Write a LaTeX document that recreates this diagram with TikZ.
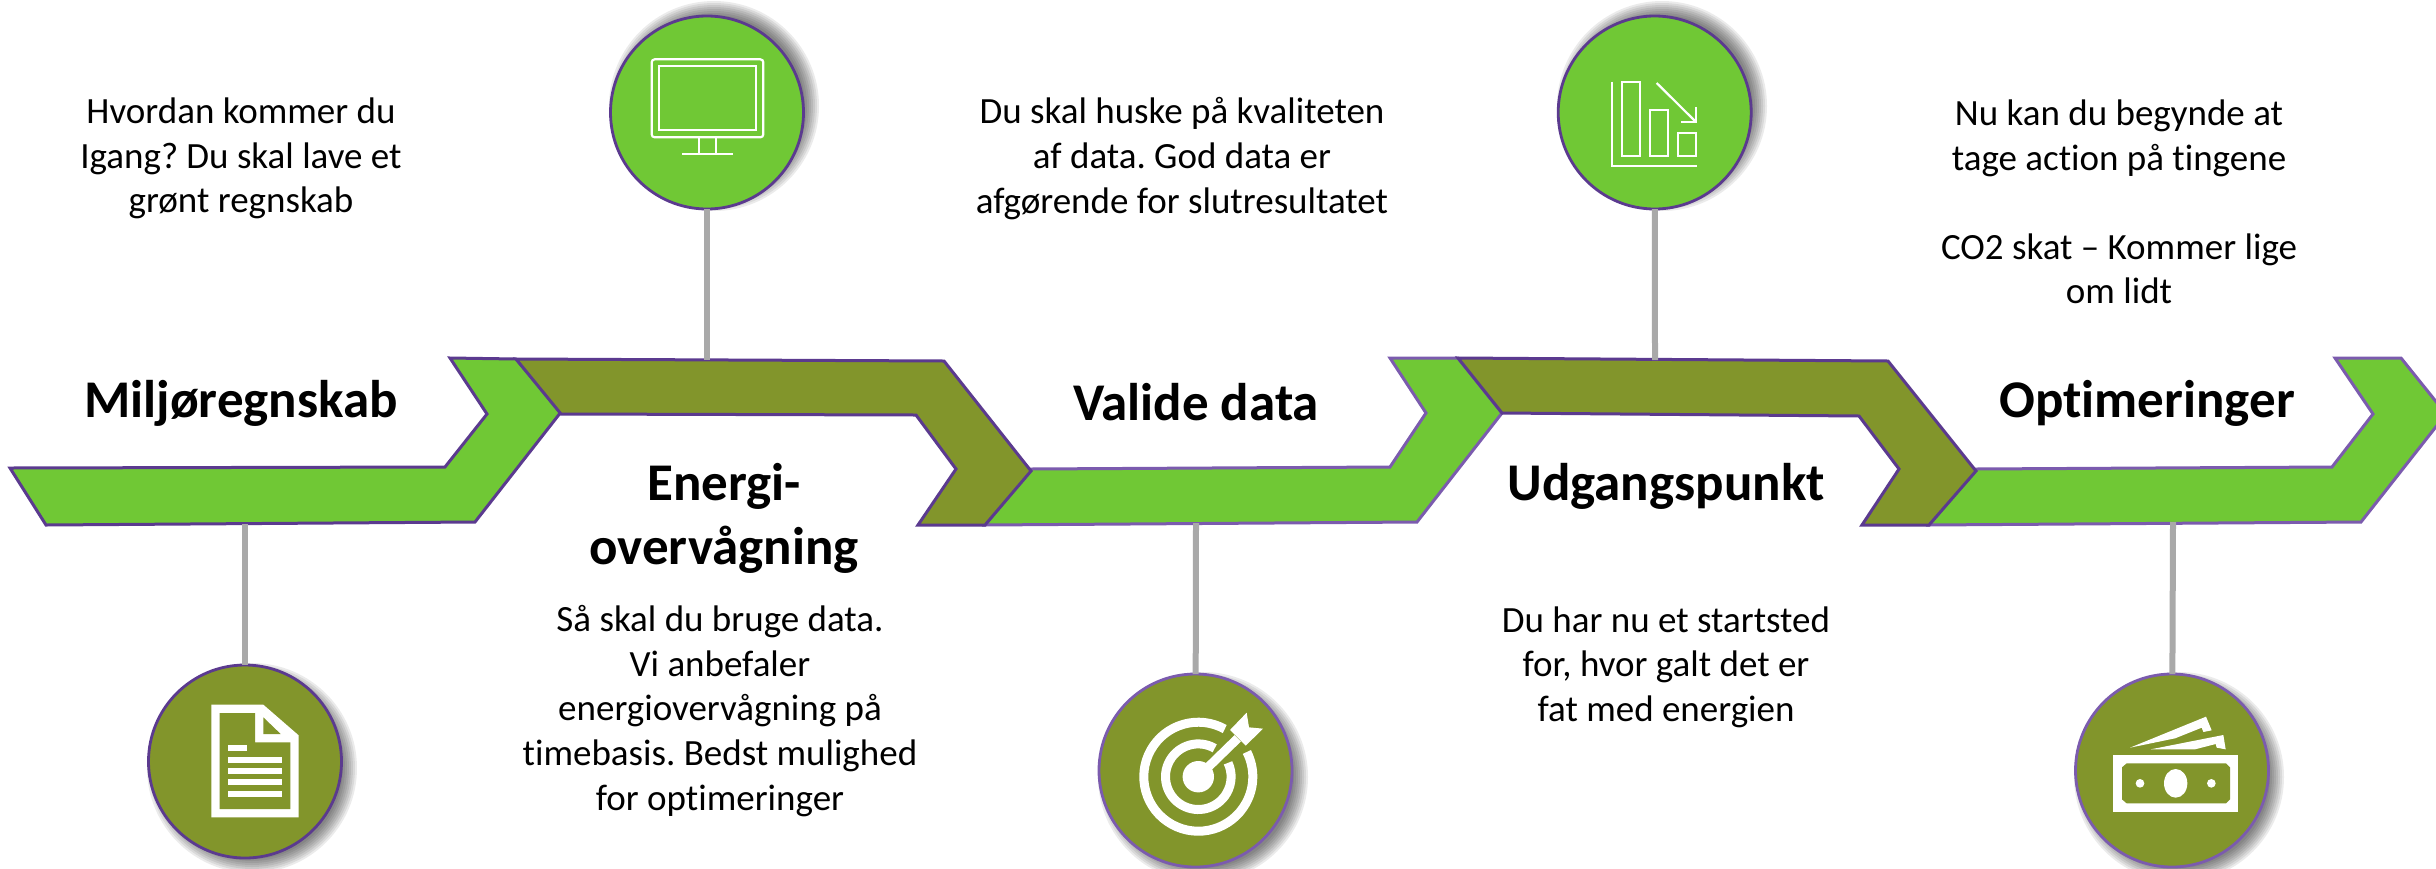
\documentclass[tikz,border=0pt]{standalone}
\usepackage{fontspec}
\setmainfont[Ligatures=NoCommon]{Carlito}
\frenchspacing
\definecolor{leaf}{HTML}{70C835}
\definecolor{moss}{HTML}{82952B}
\definecolor{edgedark}{HTML}{5B3A8F}
\definecolor{edgelight}{HTML}{7B5BAE}
\definecolor{stem}{HTML}{A9A9A9}
\tikzset{
  x=1pt,y=-1pt,
  leafbar/.style={fill=leaf,draw=edgelight,line width=3pt,line join=miter},
  leafbardark/.style={fill=leaf,draw=edgedark,line width=3pt,line join=miter},
  mossbar/.style={fill=moss,draw=edgedark,line width=3pt,line join=miter},
  disc/.style={circle,inner sep=0pt,outer sep=0pt,minimum size=193pt,line width=2.8pt},
  stemline/.style={draw=stem,line width=6pt},
  body/.style={align=center,inner sep=0pt,font=\fontsize{37}{44.6}\selectfont,text=black},
  head/.style={align=center,inner sep=0pt,font=\fontsize{53}{64}\selectfont\bfseries,text=black},
  iconline/.style={draw=white,line width=2.2pt},
  crop/.style 2 args={shift={(#1,#2)},x=.33333pt,y=-.33333pt},
}
\begin{document}
\begin{tikzpicture}
\clip (0,0) rectangle (2436,868);
% chevron bars
\draw[leafbardark] (10,468) -- (445,467) -- (487,414) -- (450,358) -- (516,359) -- (561,412) -- (475,522) -- (46,525) -- cycle;
\draw[leafbar] (985,525) -- (1031,469) -- (1390,467) -- (1426,413) -- (1390,358) -- (1458,358) -- (1502,413) -- (1417,522) -- cycle;
\draw[leafbar] (1929,525) -- (1976,469) -- (2332,467) -- (2373,414) -- (2335,358) -- (2401,358) -- (2446,414) -- (2361,522) -- cycle;
\draw[mossbar] (516,359) -- (944,361) -- (1031,471) -- (985,525) -- (918,525) -- (956,469) -- (916,415) -- (561,414) -- cycle;
\draw[mossbar] (1458,358) -- (1888,361) -- (1976,471) -- (1929,525) -- (1862,525) -- (1899,469) -- (1859,416) -- (1502,413) -- cycle;
\coordinate (barA) at (245,524);
\coordinate (barB) at (707,360);
\coordinate (barC) at (1196,523);
\coordinate (barD) at (1655,360);
\coordinate (barE) at (2173,522);
% shadows
\foreach \px/\py in {714/106,1662/106,252/768,1203/777,2179/777}{\foreach \rr in {105,103,...,91}{\fill[black,opacity=.08] (\px,\py) circle[radius=\rr pt];}}
% discs
\node[disc,fill=moss,draw=edgedark] (discA) at (245,761.5) {};
\node[disc,fill=leaf,draw=edgedark] (discB) at (707,112.5) {};
\node[disc,fill=moss,draw=edgelight] (discC) at (1195.5,770.5) {};
\node[disc,fill=leaf,draw=edgedark] (discD) at (1654.7,112.5) {};
\node[disc,fill=moss,draw=edgelight] (discE) at (2172,770.5) {};
% connectors
\draw[stemline] (barA) -- (discA);
\draw[stemline] (barB) -- (discB);
\draw[stemline] (barC) -- (discC);
\draw[stemline] (barD) -- (discD);
\draw[stemline] (barE) -- (discE);
% document icon
\begin{scope}[crop={130}{640}]
\fill[white] (244,194) -- (400,194) -- (506,286) -- (506,532) -- (244,532) -- cycle;
\fill[moss] (269,219) -- (375,219) -- (375,307) -- (481,307) -- (481,507) -- (269,507) -- cycle;
\fill[moss] (400,232) -- (452,282) -- (400,282) -- cycle;
\fill[white] (294,315) rectangle (351,333);
\fill[white] (294,351) rectangle (456,369);
\fill[white] (294,385) rectangle (456,402);
\fill[white] (294,417) rectangle (456,435);
\fill[white] (294,453) rectangle (456,470);
\end{scope}
% monitor icon
\begin{scope}[crop={560}{0}]
\draw[iconline,rounded corners=3pt] (275,178) rectangle (610,412);
\draw[iconline] (296,199) rectangle (589,389);
\draw[iconline] (417,412) -- (417,462);
\draw[iconline] (468,412) -- (468,462);
\draw[iconline] (367,462) -- (520,462);
\end{scope}
% chart icon
\begin{scope}[crop={1520}{0}]
\draw[iconline] (275,245) -- (275,499) -- (531,499);
\draw[iconline] (305,246) rectangle (361,469);
\draw[iconline] (389,330) rectangle (445,469);
\draw[iconline] (473,399) rectangle (529,469);
\draw[iconline] (410,249) -- (528,366);
\draw[iconline] (528,322) -- (528,366) -- (483,366);
\end{scope}
% target icon
\begin{scope}[shift={(1198.3,776.7)},x=1pt,y=1pt]
\draw[white,line width=9pt] (61:54.5) arc[start angle=61,end angle=387,radius=54.5];
\draw[white,line width=9pt] (60:32.8) arc[start angle=60,end angle=385,radius=32.8];
\fill[white] (0,0) circle[radius=15.7];
\end{scope}
\begin{scope}[crop={1080}{650}]
\draw[white,line width=9pt] (355,380) -- (473,265);
\fill[white] (450,240) -- (500,188) -- (507,232) -- (549,236) -- (497,287) -- cycle;
\end{scope}
% money icon
\begin{scope}[crop={2060}{650}]
\fill[white] (160,315) rectangle (535,485);
\fill[moss] (200,340) -- (498,340) -- (510,352) -- (510,448) -- (498,460) -- (200,460) -- (186,448) -- (186,352) -- cycle;
\fill[white] (347,400) ellipse[x radius=35,y radius=43];
\fill[white] (240,400) circle[radius=13];
\fill[white] (454,400) circle[radius=13];
\fill[white] (210,293) -- (438,200) -- (455,241) -- (430,246) -- (425,233) -- (345,265) -- cycle;
\fill[white] (272,298) -- (490,255) -- (497,298) -- (470,293) -- (467,282) -- (405,298) -- cycle;
\end{scope}
% headings
\node[head] (headA) at (241,403) {Miljøregnskab};
\node[head] (headB) at (724,518.5) {Energi-\\overvågning};
\node[head] (headC) at (1196,402) {Valide data};
\node[head] (headD) at (1666,486) {Udgangspunkt};
\node[head] (headE) at (2147,403) {Optimeringer};
% body text
\node[body] (textA) at (241,158.5) {Hvordan kommer du\\Igang? Du skal lave et\\grønt regnskab};
\node[body] (textB) at (720,711) {Så skal du bruge data.\\Vi anbefaler\\energiovervågning på\\timebasis. Bedst mulighed\\for optimeringer};
\node[body] (textC) at (1182,158.5) {Du skal huske på kvaliteten\\af data. God data er\\afgørende for slutresultatet};
\node[body] (textD) at (1666,667) {Du har nu et startsted\\for, hvor galt det er\\fat med energien};
\node[body] (textE) at (2119,202) {Nu kan du begynde at\\tage action på tingene\\[44.6pt]CO2 skat – Kommer lige\\om lidt};
\end{tikzpicture}
\end{document}
